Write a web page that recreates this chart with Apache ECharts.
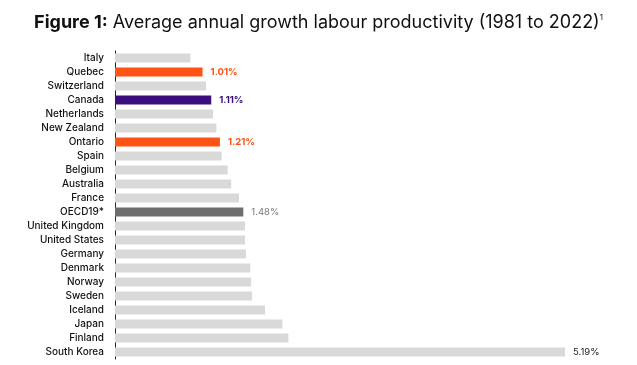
<!DOCTYPE html>
<html><head><meta charset="utf-8">
<script src="https://cdn.jsdelivr.net/npm/echarts@6/dist/echarts.min.js"></script>
<style>html,body{margin:0;padding:0;background:#fff}#c{width:637px;height:365px}</style>
</head><body><div id="c"></div>
<script>
const categories = ["Italy","Quebec","Switzerland","Canada","Netherlands","New Zealand","Ontario","Spain","Belgium","Australia","France","OECD19*","United Kingdom","United States","Germany","Denmark","Norway","Sweden","Iceland","Japan","Finland","South Korea"];
const values = [0.87,1.01,1.05,1.11,1.13,1.17,1.21,1.23,1.30,1.34,1.43,1.48,1.50,1.50,1.51,1.56,1.57,1.58,1.73,1.93,2.00,5.19];
const highlight = {"Quebec":"#FF5316","Ontario":"#FF5316","Canada":"#3A0F7D","OECD19*":"#6E6E6E"};
const labelled = {"Quebec":"#FF5316","Ontario":"#FF5316","Canada":"#3A0F7D","OECD19*":"#7A7A7A","South Korea":"#222222"};
const FONT = "Inter, 'Noto Sans', sans-serif";
const chart = echarts.init(document.getElementById('c'));
chart.setOption({
  animation:false,
  title:{text:'{b|Figure 1:} {n|Average annual growth labour productivity (1981 to 2022)}{s|1}',left:'center',top:9,
    textStyle:{rich:{b:{fontFamily:FONT,fontWeight:'bold',fontSize:18,color:'#111'},n:{fontFamily:FONT,fontWeight:'normal',fontSize:18,color:'#111'},s:{fontFamily:FONT,fontWeight:'normal',fontSize:8,color:'#111',verticalAlign:'top',padding:[0,0,10,0]}}}},
  grid:{left:115,right:72,top:51,bottom:6},
  xAxis:{type:'value',min:0,max:5.19,show:false},
  yAxis:{type:'category',data:categories,inverse:true,
    axisLine:{show:true,lineStyle:{color:'#222',width:1}},axisTick:{show:false},
    axisLabel:{fontFamily:FONT,fontSize:10,fontWeight:500,color:'#111',margin:11}},
  series:[{type:'bar',barWidth:9,
    data:values.map((v,i)=>{
      const c=categories[i];
      const col = (c in highlight) ? highlight[c] : '#D9D9D9';
      const item={value:v,itemStyle:{color:col}};
      if(c in labelled){item.label={show:true,position:'right',distance:8,formatter:v.toFixed(2)+'%',color:labelled[c],fontFamily:FONT,fontSize:9.5,fontWeight:c==='OECD19*'||c==='South Korea'?'normal':'bold'};}
      return item;
    })}]
});
</script></body></html>
